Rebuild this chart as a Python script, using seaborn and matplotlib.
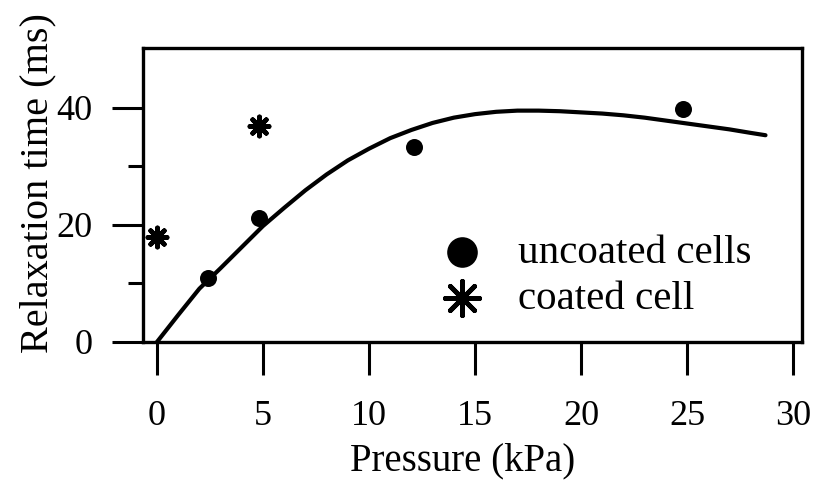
import matplotlib
matplotlib.use("Agg")
import matplotlib.pyplot as plt
import seaborn as sns
import pandas as pd

# ---- data ----
uncoated_pressure = [2.4, 4.8, 12.1, 24.8]
uncoated_time = [10.9, 21.1, 33.3, 39.8]

coated_pressure = [0.0, 4.8]
coated_time = [18.0, 36.9]

fit_pressure = [0, 1, 2, 3, 4, 5, 6, 7, 8, 9, 10, 11, 12, 13, 14, 15, 16, 17, 18,
                19, 20, 21, 22, 23, 24, 25, 26, 27, 28, 28.7]
fit_time = [0.0, 4.6, 9.1, 12.6, 16.2, 19.8, 22.9, 25.9, 28.6, 31.0, 33.0, 34.8,
            36.2, 37.4, 38.3, 38.9, 39.3, 39.5, 39.5, 39.4, 39.2, 39.0, 38.7, 38.3,
            37.8, 37.3, 36.8, 36.3, 35.7, 35.3]

x_ticks = [0, 5, 10, 15, 20, 25, 30]
y_ticks = [0, 20, 40]
y_minor = [10, 30]

x_label = "Pressure (kPa)"
y_label = "Relaxation time (ms)"
label_uncoated = "uncoated cells"
label_coated = "coated cell"

# ---- plotting ----
sns.set_style("ticks")
plt.rcParams["font.family"] = ["Liberation Serif", "DejaVu Serif"]
plt.rcParams["text.color"] = "black"

fig = plt.figure(figsize=(8.17, 4.82), dpi=100)
ax = fig.add_axes([0.175, 0.2905, 0.8066, 0.61])

fit_df = pd.DataFrame({"p": fit_pressure, "t": fit_time})
sns.lineplot(data=fit_df, x="p", y="t", sort=False, color="black", lw=3.0, ax=ax)

unc_df = pd.DataFrame({"p": uncoated_pressure, "t": uncoated_time})
coat_df = pd.DataFrame({"p": coated_pressure, "t": coated_time})
sns.scatterplot(data=unc_df, x="p", y="t", marker="o", s=150, color="black",
                edgecolor="black", linewidth=0, ax=ax, label=label_uncoated, zorder=5)
sns.scatterplot(data=coat_df, x="p", y="t", marker=(8, 2, 0), s=190, color="black",
                edgecolor="black", linewidth=3.4, ax=ax, label=label_coated, zorder=5)

ax.set_xlim(-0.66, 30.42)
ax.set_ylim(0, 50.2)
ax.set_xticks(x_ticks)
ax.set_yticks(y_ticks)
ax.set_yticks(y_minor, minor=True)

for s in ax.spines.values():
    s.set_visible(True)
    s.set_linewidth(2.4)
    s.set_color("black")

ax.tick_params(axis="x", which="major", direction="out", length=24, width=2.2,
               pad=18, labelsize=26, colors="black")
ax.tick_params(axis="y", which="major", direction="out", length=22.5, width=2.2,
               pad=14, labelsize=26, colors="black")
ax.tick_params(axis="y", which="minor", direction="out", length=11, width=2.2,
               colors="black")

ax.set_xlabel(x_label, fontsize=28, color="black")
ax.set_ylabel(y_label, fontsize=29, color="black")
ax.xaxis.set_label_coords(0.485, -0.34)
ax.yaxis.set_label_coords(-0.132, 0.54)

leg = ax.legend(loc="center left", bbox_to_anchor=(0.454, 0.225), frameon=False,
                fontsize=29.5, handlelength=0.95, handletextpad=0.9, labelspacing=0.2,
                borderpad=0, borderaxespad=0, markerscale=1.8)
for t in leg.get_texts():
    t.set_color("black")

fig.savefig("out.png", dpi=100)
